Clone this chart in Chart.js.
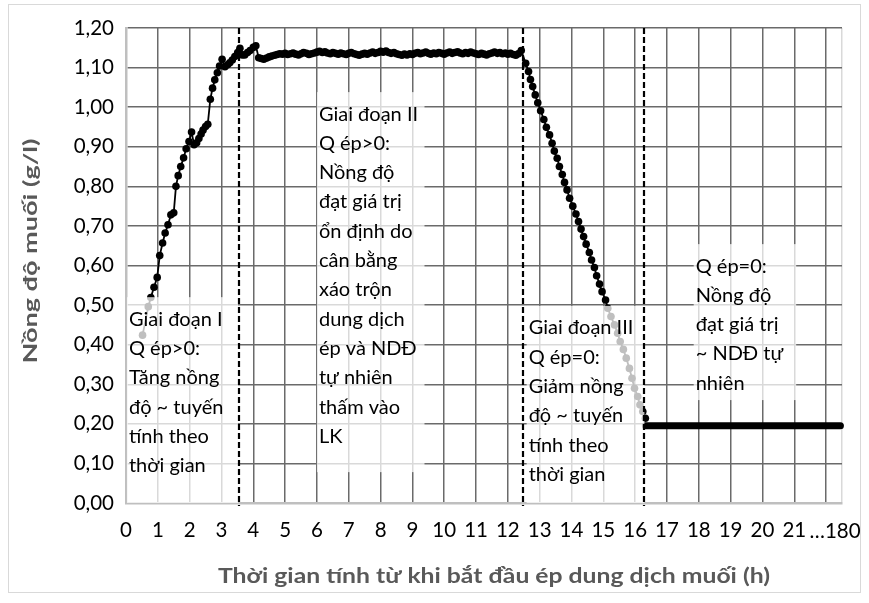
<!DOCTYPE html>
<html>
<head>
<meta charset="utf-8">
<script src="https://cdn.jsdelivr.net/npm/chart.js@4.4.1/dist/chart.umd.min.js"></script>
<style>
  html, body { margin: 0; padding: 0; background: #fff; }
</style>
</head>
<body>
<canvas id="myChart" width="869" height="603"></canvas>
<script>
// phase I: rising concentration (h, g/l)
const phase1Time = [0.52, 0.70, 0.78, 0.88, 0.98, 1.06, 1.15, 1.23, 1.32, 1.41, 1.50, 1.57, 1.64, 1.72, 1.81, 1.89, 1.98, 2.06, 2.14, 2.22, 2.29, 2.36, 2.42, 2.50, 2.57, 2.65, 2.72, 2.79, 2.87, 2.94, 3.02, 3.11, 3.19, 3.26, 3.34, 3.42, 3.51, 3.58, 3.65, 3.73, 3.82, 3.90, 4.00, 4.08];
const phase1Conc = [0.424, 0.496, 0.519, 0.545, 0.570, 0.625, 0.657, 0.682, 0.703, 0.728, 0.733, 0.800, 0.827, 0.850, 0.872, 0.895, 0.913, 0.937, 0.905, 0.910, 0.921, 0.932, 0.942, 0.951, 0.957, 1.020, 1.048, 1.069, 1.087, 1.104, 1.121, 1.102, 1.107, 1.112, 1.119, 1.128, 1.138, 1.149, 1.132, 1.132, 1.138, 1.143, 1.151, 1.155];

// phase II: plateau
const phase2Time = [4.17, 4.25, 4.33, 4.42, 4.50, 4.58, 4.67, 4.75, 4.83, 4.92,
  5.00, 5.08, 5.17, 5.25, 5.33, 5.42, 5.50, 5.58, 5.67, 5.75, 5.83, 5.92,
  6.00, 6.08, 6.17, 6.25, 6.33, 6.42, 6.50, 6.58, 6.67, 6.75, 6.83, 6.92,
  7.00, 7.08, 7.17, 7.25, 7.33, 7.42, 7.50, 7.58, 7.67, 7.75, 7.83, 7.92,
  8.00, 8.08, 8.17, 8.25, 8.33, 8.42, 8.50, 8.58, 8.67, 8.75, 8.83, 8.92,
  9.00, 9.08, 9.17, 9.25, 9.33, 9.42, 9.50, 9.58, 9.67, 9.75, 9.83, 9.92,
  10.00, 10.08, 10.17, 10.25, 10.33, 10.42, 10.50, 10.58, 10.67, 10.75, 10.83, 10.92,
  11.00, 11.08, 11.17, 11.25, 11.33, 11.42, 11.50, 11.58, 11.67, 11.75, 11.83, 11.92,
  12.00, 12.08, 12.17, 12.25, 12.33, 12.42];
const phase2Conc = [1.125, 1.123, 1.121, 1.124, 1.127, 1.129, 1.131, 1.133, 1.135, 1.134,
  1.136, 1.133, 1.135, 1.137, 1.134, 1.132, 1.135, 1.138, 1.136, 1.133, 1.135, 1.137,
  1.139, 1.141, 1.138, 1.140, 1.137, 1.135, 1.138, 1.136, 1.134, 1.137, 1.135, 1.133,
  1.136, 1.138, 1.135, 1.133, 1.131, 1.134, 1.136, 1.134, 1.137, 1.139, 1.136, 1.138,
  1.141, 1.139, 1.142, 1.138, 1.136, 1.138, 1.135, 1.133, 1.131, 1.134, 1.132, 1.135,
  1.133, 1.136, 1.138, 1.135, 1.137, 1.139, 1.136, 1.134, 1.137, 1.135, 1.138, 1.136,
  1.134, 1.137, 1.139, 1.136, 1.138, 1.140, 1.137, 1.135, 1.138, 1.136, 1.139, 1.137,
  1.135, 1.133, 1.136, 1.134, 1.132, 1.135, 1.137, 1.139, 1.136, 1.138, 1.135, 1.137,
  1.134, 1.136, 1.133, 1.131, 1.135, 1.143];

// phase III: falling concentration
const phase3Time = [12.56, 12.65, 12.71, 12.78, 12.86, 12.94, 13.03, 13.13, 13.21, 13.31, 13.39, 13.46, 13.55, 13.62, 13.71, 13.78, 13.86, 13.94, 14.04, 14.14, 14.22, 14.30, 14.38, 14.46, 14.56, 14.63, 14.72, 14.79, 14.88, 14.96, 15.07, 15.14, 15.24, 15.35, 15.45, 15.53, 15.63, 15.72, 15.82, 15.90, 15.98, 16.08, 16.15, 16.24, 16.32];
const phase3Conc = [1.111, 1.090, 1.070, 1.052, 1.031, 1.011, 0.991, 0.969, 0.949, 0.930, 0.909, 0.889, 0.871, 0.850, 0.830, 0.810, 0.791, 0.770, 0.750, 0.730, 0.711, 0.692, 0.673, 0.654, 0.633, 0.614, 0.595, 0.574, 0.553, 0.534, 0.513, 0.492, 0.471, 0.450, 0.429, 0.408, 0.388, 0.366, 0.340, 0.315, 0.290, 0.269, 0.248, 0.231, 0.214];

// phase IV: natural level (dense points, drawn as a thick band)
const phase4Time = [16.32, 22.45];
const phase4Conc = [0.195, 0.195];

// phase boundaries (h)
const phaseBounds = [3.55, 12.47, 16.27];

// x tick labels: 0..21, then the axis break
const xTickValues = [0, 1, 2, 3, 4, 5, 6, 7, 8, 9, 10, 11, 12, 13, 14, 15, 16, 17, 18, 19, 20, 21, 22];
const xTickText = ['0', '1', '2', '3', '4', '5', '6', '7', '8', '9', '10', '11', '12', '13', '14', '15', '16', '17', '18', '19', '20', '21', '\u2026180'];

const xTitle = 'Thời gian tính từ khi bắt đầu ép dung dịch muối (h)';
const yTitle = 'Nồng độ muối (g/l)';

const noteTexts = [
  ['Giai đoạn I', 'Q ép>0:', 'Tăng nồng', 'độ ~ tuyến', 'tính theo', 'thời gian'],
  ['Giai đoạn II', 'Q ép>0:', 'Nồng độ', 'đạt giá trị', 'ổn định do', 'cân bằng', 'xáo trộn', 'dung dịch', 'ép và NDĐ', 'tự nhiên', 'thấm vào', 'LK'],
  ['Giai đoạn III', 'Q ép=0:', 'Giảm nồng', 'độ ~ tuyến', 'tính theo', 'thời gian'],
  ['Q ép=0:', 'Nồng độ', 'đạt giá trị', '~ NDĐ tự', 'nhiên']
];

// text box frames in axis units
const noteBoxes = [
  { x0: 0.03, x1: 3.52, y0: 0.0, y1: 0.52 },
  { x0: 6.0, x1: 9.38, y0: 0.078, y1: 1.038 },
  { x0: 12.59, x1: 16.29, y0: 0.0, y1: 0.498 },
  { x0: 17.84, x1: 21.06, y0: 0.26, y1: 0.654 }
];

const FONT = 'Lato, "Open Sans", sans-serif';
const LAST = xTickValues.length - 1;

function pairs(t, c) {
  return t.map((v, i) => ({ x: v, y: c[i] }));
}

const mainPoints = pairs(phase1Time, phase1Conc)
  .concat(pairs(phase2Time, phase2Conc))
  .concat(pairs(phase3Time, phase3Conc));

// draw text stretched along its run so it spans `len` pixels
function stretchText(c, text, cx, cy, len, angle) {
  c.save();
  c.translate(cx, cy);
  c.rotate(angle);
  const w = c.measureText(text).width;
  c.scale(len / w, 1);
  c.textAlign = 'center';
  c.textBaseline = 'middle';
  c.fillText(text, 0, 0);
  c.restore();
}

const notesPlugin = {
  id: 'notes',
  beforeDraw(chart) {
    const c = chart.ctx;
    c.save();
    c.fillStyle = '#fff';
    c.fillRect(0, 0, chart.width, chart.height);
    c.strokeStyle = '#d9d9d9';
    c.lineWidth = 1;
    c.strokeRect(8.5, 4.5, 852, 588);
    c.restore();
  },
  afterDatasetsDraw(chart) {
    const c = chart.ctx;
    const xs = chart.scales.x, ys = chart.scales.y;
    c.save();
    noteBoxes.forEach((b, i) => {
      const l = xs.getPixelForValue(b.x0), r = xs.getPixelForValue(b.x1);
      const t = ys.getPixelForValue(b.y1), btm = ys.getPixelForValue(b.y0);
      c.fillStyle = 'rgba(255,255,255,0.75)';
      c.fillRect(l, t, r - l, btm - t);
      c.fillStyle = '#000';
      c.font = '20px ' + FONT;
      c.textBaseline = 'middle';
      c.textAlign = 'left';
      noteTexts[i].forEach((line, k) => {
        c.fillText(line, l + 2, t + 22 + k * 29.3);
      });
    });
    // dashed phase boundaries
    c.strokeStyle = '#000';
    c.lineWidth = 2.2;
    c.setLineDash([6, 3]);
    phaseBounds.forEach(v => {
      const x = Math.round(xs.getPixelForValue(v));
      c.beginPath();
      c.moveTo(x, ys.getPixelForValue(1.2));
      c.lineTo(x, ys.getPixelForValue(0) + 3);
      c.stroke();
    });
    c.setLineDash([]);
    // axis-break label, set a little right of its grid line
    c.fillStyle = '#000';
    c.font = '20.5px ' + FONT;
    c.textAlign = 'center';
    c.textBaseline = 'middle';
    c.fillText(xTickText[LAST], xs.getPixelForValue(xTickValues[LAST]) + 9, ys.bottom + 28);
    // axis titles
    c.fillStyle = '#595959';
    c.font = 'bold 21px ' + FONT;
    stretchText(c, xTitle, 494, 576, 552, 0);
    c.font = 'bold 19px ' + FONT;
    stretchText(c, yTitle, 31, 251, 225, -Math.PI / 2);
    c.restore();
  }
};

const ctx = document.getElementById('myChart').getContext('2d');
const myChart = new Chart(ctx, {
  type: 'scatter',
  data: {
    datasets: [
      {
        data: mainPoints,
        showLine: true,
        borderColor: '#000',
        backgroundColor: '#000',
        borderWidth: 1.8,
        pointRadius: 3.8,
        pointBorderWidth: 0
      },
      {
        data: pairs(phase4Time, phase4Conc),
        showLine: true,
        borderColor: '#000',
        borderWidth: 7,
        borderCapStyle: 'round',
        pointRadius: 0,
        clip: 6
      }
    ]
  },
  options: {
    responsive: false,
    animation: false,
    layout: { padding: { left: 8, right: 27, top: 28, bottom: 12 } },
    plugins: { legend: { display: false }, tooltip: { enabled: false } },
    scales: {
      x: {
        type: 'linear',
        min: 0,
        max: 22.5,
        afterBuildTicks(scale) {
          scale.ticks = xTickValues.map(v => ({ value: v })).concat([{ value: 22.5 }]);
        },
        afterFit(scale) { scale.height = 88; },
        ticks: {
          autoSkip: false,
          maxRotation: 0,
          padding: 15,
          color: '#000',
          font: { family: FONT, size: 20.5 },
          callback(v) {
            const i = xTickValues.indexOf(v);
            return (i >= 0 && i < LAST) ? xTickText[i] : '';
          }
        },
        grid: {
          drawTicks: false,
          color: c => (c.tick && c.tick.value === 22.5) ? '#d9d9d9' : '#6a6a6a',
          lineWidth: 1.5
        },
        border: { color: '#bfbfbf', width: 2.5 },
        title: { display: false }
      },
      y: {
        min: 0,
        max: 1.2,
        afterFit(scale) { scale.width = 118; },
        ticks: {
          stepSize: 0.1,
          padding: 12,
          color: '#000',
          font: { family: FONT, size: 20.5 },
          callback: v => v.toFixed(2).replace('.', ',')
        },
        grid: { drawTicks: false, color: '#6a6a6a', lineWidth: 1.5 },
        border: { color: '#bfbfbf', width: 2.5 },
        title: { display: false }
      }
    }
  },
  plugins: [notesPlugin]
});
</script>
</body>
</html>
